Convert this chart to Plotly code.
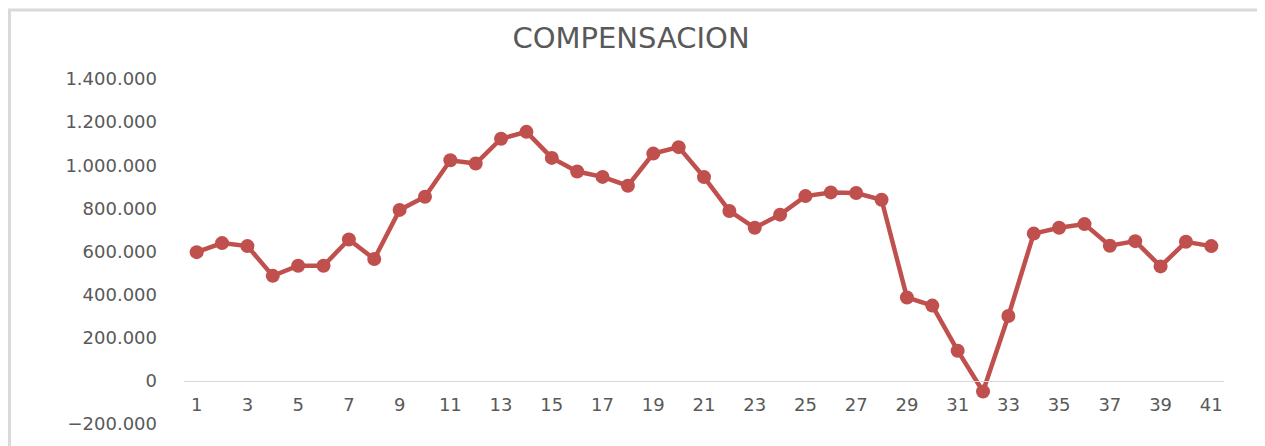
import plotly.graph_objects as go

# periodos 1..41 y valores de compensacion
periodos = list(range(1, 42))
compensacion = [
    597000, 639000, 625000, 487000, 534000, 534000, 656000, 565000, 793000, 854000,
    1023000, 1008000, 1123000, 1155000, 1034000, 971000, 946000, 905000, 1054000, 1084000,
    945000, 788000, 710000, 771000, 857000, 874000, 871000, 840000, 387000, 349000,
    140000, -49000, 301000, 683000, 710000, 727000, 627000, 648000, 531000, 645000,
    625000,
]
etiquetas_x = [p for p in periodos if p % 2 == 1]
valores_y = [-200000, 0, 200000, 400000, 600000, 800000, 1000000, 1200000, 1400000]

rojo = '#C0504D'
gris = '#595959'
fuente = 'DejaVu Sans'

fig = go.Figure()

fig.add_trace(
    go.Scatter(x=periodos, y=compensacion, mode='lines+markers', name='Compensacion',
               line=dict(color=rojo, width=4.5),
               marker=dict(color=rojo, size=14, symbol='circle'),
               cliponaxis=False))

# el eje x cruza en y = 0 (como en Excel)
y_min, y_max = -200000, 1400000
pos_cero = (0 - y_min) / (y_max - y_min)

# la pagina deja 8px de margen en el body, se descuentan aqui
fig.update_layout(
    title=dict(text='COMPENSACION', x=(631 - 8) / 1257, xref='container', xanchor='center',
               y=1 - 30 / 438, yref='container', yanchor='middle',
               font=dict(family=fuente, size=29, color=gris)),
    width=1257, height=438,
    margin=dict(l=176, r=41, t=71, b=20),
    plot_bgcolor='white',
    paper_bgcolor='white',
    showlegend=False,
    separators=',.',
    xaxis=dict(range=[0.5, 41.5], tickvals=etiquetas_x, ticktext=[str(v) for v in etiquetas_x],
               anchor='free', position=pos_cero,
               showline=True, linecolor='#D9D9D9', linewidth=1,
               showgrid=False, zeroline=False, ticks='',
               ticklabelstandoff=8,
               tickfont=dict(family=fuente, size=18, color=gris)),
    yaxis=dict(range=[y_min, y_max], tickvals=valores_y, tickformat=',d',
               showgrid=False, zeroline=False, showline=False, ticks='',
               ticklabelstandoff=26,
               tickfont=dict(family=fuente, size=18, color=gris)),
)

# borde del area del grafico
fig.add_shape(type='rect', xref='paper', yref='paper',
              x0=(1.5 - 176) / 1040, x1=(1254 - 176) / 1040,
              y0=(418 - 470) / 347, y1=(418 - 1.5) / 347,
              line=dict(color='#D9D9D9', width=3), layer='below')

fig.write_html("out.html")
